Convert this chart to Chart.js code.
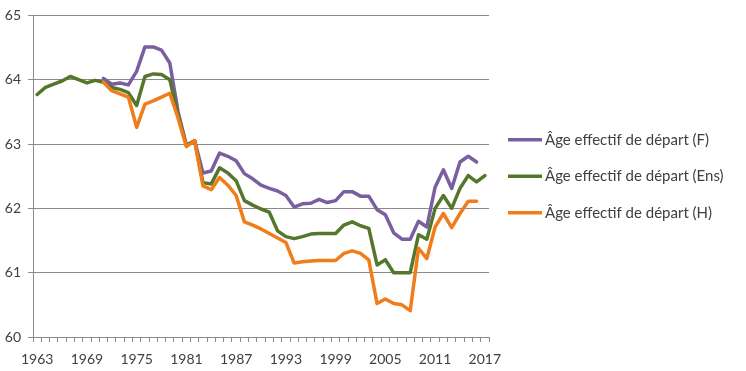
<!DOCTYPE html>
<html>
<head>
<meta charset="utf-8">
<script src="https://cdn.jsdelivr.net/npm/chart.js@4.4.1/dist/chart.umd.min.js"></script>
<style>
  html, body { margin: 0; padding: 0; background: #fff; }
  canvas { display: block; }
</style>
</head>
<body>
<canvas id="chart" width="746" height="371"></canvas>
<script>
// années 1963 -> 2017
const years = [1963, 1964, 1965, 1966, 1967, 1968, 1969, 1970, 1971, 1972,
  1973, 1974, 1975, 1976, 1977, 1978, 1979, 1980, 1981, 1982,
  1983, 1984, 1985, 1986, 1987, 1988, 1989, 1990, 1991, 1992,
  1993, 1994, 1995, 1996, 1997, 1998, 1999, 2000, 2001, 2002,
  2003, 2004, 2005, 2006, 2007, 2008, 2009, 2010, 2011, 2012,
  2013, 2014, 2015, 2016, 2017];
const shownYears = [1963, 1969, 1975, 1981, 1987, 1993, 1999, 2005, 2011, 2017];
const yTicks = [60, 61, 62, 63, 64, 65];

// Âge effectif de départ (F)
const ageF = [null, null, null, null, null, null, null, null, 64.02, 63.93,
  63.95, 63.92, 64.13, 64.51, 64.51, 64.46, 64.26, 63.50, 62.98, 63.05,
  62.55, 62.58, 62.86, 62.81, 62.74, 62.54, 62.46, 62.36, 62.31, 62.27,
  62.20, 62.02, 62.07, 62.08, 62.14, 62.09, 62.12, 62.26, 62.26, 62.19,
  62.19, 61.98, 61.90, 61.62, 61.52, 61.52, 61.80, 61.71, 62.33, 62.60,
  62.31, 62.72, 62.81, 62.72, null];

// Âge effectif de départ (Ens)
const ageEns = [63.77, 63.88, 63.93, 63.98, 64.05, 64.00, 63.95, 63.99, 63.96, 63.88,
  63.85, 63.80, 63.60, 64.05, 64.09, 64.08, 64.00, 63.45, 62.98, 63.05,
  62.40, 62.38, 62.63, 62.55, 62.43, 62.12, 62.05, 61.99, 61.94, 61.65,
  61.56, 61.53, 61.56, 61.60, 61.61, 61.61, 61.61, 61.74, 61.79, 61.73,
  61.69, 61.12, 61.20, 61.00, 61.00, 61.00, 61.59, 61.52, 62.00, 62.20,
  62.00, 62.31, 62.51, 62.41, 62.51];

// Âge effectif de départ (H)
const ageH = [null, null, null, null, null, null, null, null, 63.96, 63.83,
  63.78, 63.73, 63.26, 63.62, 63.67, 63.73, 63.79, 63.40, 62.96, 63.05,
  62.35, 62.29, 62.48, 62.36, 62.20, 61.79, 61.74, 61.68, 61.61, 61.54,
  61.47, 61.15, 61.17, 61.18, 61.19, 61.19, 61.19, 61.30, 61.34, 61.30,
  61.20, 60.52, 60.59, 60.52, 60.50, 60.41, 61.38, 61.22, 61.71, 61.92,
  61.70, 61.92, 62.11, 62.11, null];

const gridColor = '#8a8a8a';
const textColor = '#404040';
const font = { family: 'Lato', size: 14 };
const legendFont = '15px Lato';

function serie(label, data, color) {
  return {
    label: label,
    data: data,
    borderColor: color,
    backgroundColor: color,
    borderWidth: 3.5,
    pointRadius: 0,
    tension: 0,
    fill: false,
    spanGaps: false,
    borderJoinStyle: 'round',
    borderCapStyle: 'round'
  };
}

// légende à droite (celle de Chart.js est limitée en largeur)
const sideLegend = {
  id: 'sideLegend',
  afterDraw(chart) {
    const ctx = chart.ctx;
    const area = chart.chartArea;
    const sets = chart.data.datasets.slice().reverse();
    const x0 = area.right + 19;
    const step = 36.5;
    const yMid = (area.top + area.bottom) / 2;
    ctx.save();
    ctx.font = legendFont;
    ctx.textBaseline = 'middle';
    ctx.textAlign = 'left';
    sets.forEach((ds, i) => {
      const y = yMid + (i - 1) * step;
      ctx.strokeStyle = ds.borderColor;
      ctx.lineWidth = 3.5;
      ctx.beginPath();
      ctx.moveTo(x0, y);
      ctx.lineTo(x0 + 34, y);
      ctx.stroke();
      ctx.fillStyle = textColor;
      ctx.fillText(ds.label, x0 + 37, y);
    });
    ctx.restore();
  }
};

new Chart(document.getElementById('chart'), {
  type: 'line',
  data: {
    labels: years,
    // H dessiné au-dessus, puis Ens, puis F
    datasets: [
      serie('Âge effectif de départ (H)', ageH, '#f07d1a'),
      serie('Âge effectif de départ (Ens)', ageEns, '#55772c'),
      serie('Âge effectif de départ (F)', ageF, '#7a5fa0')
    ]
  },
  options: {
    responsive: false,
    animation: false,
    layout: { padding: { top: 10, right: 257, left: 0, bottom: 0 } },
    plugins: {
      tooltip: { enabled: false },
      legend: { display: false }
    },
    scales: {
      x: {
        offset: true,
        grid: { offset: true, drawOnChartArea: false, tickLength: 5, color: gridColor },
        border: { color: gridColor },
        ticks: {
          autoSkip: false,
          maxRotation: 0,
          padding: 9,
          color: textColor,
          font: font,
          callback: function (v, i) {
            return shownYears.includes(years[i]) ? String(years[i]) : '';
          }
        },
        afterFit: function (s) { s.height = 34; }
      },
      y: {
        min: yTicks[0],
        max: yTicks[yTicks.length - 1],
        afterBuildTicks: function (s) { s.ticks = yTicks.map(v => ({ value: v })); },
        grid: { color: gridColor, tickLength: 5 },
        border: { color: gridColor },
        ticks: { padding: 7, color: textColor, font: font },
        afterFit: function (s) { s.width = 33; }
      }
    }
  },
  plugins: [sideLegend]
});
</script>
</body>
</html>
